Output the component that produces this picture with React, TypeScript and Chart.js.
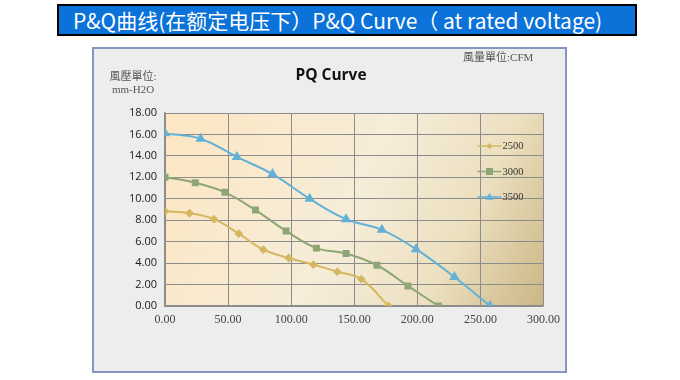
import React, { useEffect, useRef } from "react";
import { Chart, registerables } from "chart.js";

Chart.register(...registerables);

const seriesNames = ["2500", "3000", "3500"];
const flow2500 = [0, 19.5, 38.8, 58.5, 78, 98, 117.6, 136.6, 155.6, 177.2];
const pres2500 = [8.83, 8.65, 8.1, 6.75, 5.25, 4.48, 3.86, 3.2, 2.5, 0];
const flow3000 = [0, 24, 47.5, 71.7, 96, 120, 143.5, 168, 192.5, 216.8];
const pres3000 = [12.0, 11.5, 10.6, 8.95, 7.0, 5.4, 4.9, 3.8, 1.87, 0];
const flow3500 = [0, 28.2, 57, 85.2, 114.7, 143.5, 171.9, 199, 229.4, 257.7];
const pres3500 = [16.1, 15.6, 13.9, 12.3, 10.0, 8.1, 7.1, 5.3, 2.7, 0];
const xTicks = [0, 50, 100, 150, 200, 250, 300];
const yTicks = [0, 2, 4, 6, 8, 10, 12, 14, 16, 18];

const colors = ["#d4b760", "#8ea676", "#62b1d8"];
const pointStyles = ["rectRot", "rect", "triangle"];
const pointRadii = [3, 3.5, 4];

function pairs(xs: number[], ys: number[]) {
  return xs.map((x, i) => ({ x, y: ys[i] }));
}

const bgPlugin = {
  id: "plotBg",
  beforeDraw(chart: any) {
    const { ctx, chartArea } = chart;
    const { left, top, right, bottom } = chartArea;
    const g = ctx.createLinearGradient(left, top, right, bottom);
    g.addColorStop(0, "#fde6c2");
    g.addColorStop(0.5, "#f6edd9");
    g.addColorStop(0.75, "#ece0c0");
    g.addColorStop(1, "#cbb684");
    ctx.save();
    ctx.fillStyle = g;
    ctx.fillRect(left, top, right - left, bottom - top);
    ctx.restore();
  },
};

const legendPlugin = {
  id: "innerLegend",
  afterDraw(chart: any) {
    const { ctx, chartArea } = chart;
    const x0 = chartArea.right - 66;
    const yStart = chartArea.top + 33;
    const step = 25.5;
    ctx.save();
    chart.data.datasets.forEach((ds: any, i: number) => {
      const y = yStart + i * step;
      ctx.strokeStyle = ds.borderColor;
      ctx.lineWidth = 1.5;
      ctx.beginPath();
      ctx.moveTo(x0, y);
      ctx.lineTo(x0 + 24, y);
      ctx.stroke();
      ctx.fillStyle = ds.pointBackgroundColor;
      const r = pointRadii[i];
      const cx = x0 + 12;
      ctx.beginPath();
      if (pointStyles[i] === "rectRot") {
        ctx.moveTo(cx, y - r);
        ctx.lineTo(cx + r, y);
        ctx.lineTo(cx, y + r);
        ctx.lineTo(cx - r, y);
      } else if (pointStyles[i] === "rect") {
        ctx.rect(cx - r, y - r, 2 * r, 2 * r);
      } else {
        ctx.moveTo(cx, y - r);
        ctx.lineTo(cx + r, y + r * 0.7);
        ctx.lineTo(cx - r, y + r * 0.7);
      }
      ctx.closePath();
      ctx.fill();
      ctx.fillStyle = "#333";
      ctx.font = "10.5px 'Liberation Serif'";
      ctx.textBaseline = "middle";
      ctx.textAlign = "left";
      ctx.fillText(ds.label, x0 + 25, y + 0.5);
    });
    ctx.restore();
  },
};

export default function App() {
  const ref = useRef<HTMLCanvasElement>(null);
  useEffect(() => {
    const series = [
      pairs(flow2500, pres2500),
      pairs(flow3000, pres3000),
      pairs(flow3500, pres3500),
    ];
    const chart = new Chart(ref.current!, {
      type: "line",
      data: {
        datasets: series.map((d, i) => ({
          label: seriesNames[i],
          data: d,
          borderColor: colors[i],
          backgroundColor: colors[i],
          pointBackgroundColor: colors[i],
          pointBorderColor: colors[i],
          pointStyle: pointStyles[i] as any,
          pointRadius: pointRadii[i],
          borderWidth: 2,
          tension: 0.4,
          fill: false,
        })),
      },
      options: {
        animation: false,
        responsive: false,
        maintainAspectRatio: false,
        layout: { padding: { top: 66, right: 23, left: 0, bottom: 0 } },
        plugins: {
          legend: { display: false },
          title: { display: false },
          tooltip: { enabled: false },
        },
        scales: {
          x: {
            type: "linear",
            min: 0,
            max: 300,
            afterBuildTicks: (s: any) => {
              s.ticks = xTicks.map((v) => ({ value: v }));
            },
            afterFit: (s: any) => {
              s.height = 67;
            },
            grid: { color: "#8c8c8c", lineWidth: 1, drawTicks: false },
            border: { color: "#8c8c8c", width: 1.5 },
            ticks: {
              padding: 7,
              color: "#444",
              font: { family: "'Liberation Serif'", size: 12 },
              callback: (v: any) => Number(v).toFixed(2),
            },
          },
          y: {
            min: 0,
            max: 18,
            afterBuildTicks: (s: any) => {
              s.ticks = yTicks.map((v) => ({ value: v }));
            },
            afterFit: (s: any) => {
              s.width = 73;
            },
            grid: { color: "#8c8c8c", lineWidth: 1, drawTicks: false },
            border: { color: "#8c8c8c", width: 1.5 },
            ticks: {
              padding: 8,
              color: "#1a1a1a",
              font: { family: "'Open Sans'", size: 11 },
              callback: (v: any) => Number(v).toFixed(2),
            },
          },
        },
      },
      plugins: [bgPlugin, legendPlugin],
    } as any);
    return () => chart.destroy();
  }, []);

  return (
    <div style={{ position: "fixed", left: 0, top: 0, width: 680, height: 380, background: "#fff", overflow: "hidden" }}>
      <div
        style={{
          position: "absolute",
          left: 57,
          top: 4,
          width: 562,
          height: 28,
          background: "#0a72d8",
          border: "2px solid #000",
          color: "#fff",
          fontFamily: "'Noto Sans CJK SC', 'Noto Sans', sans-serif",
          fontSize: 21,
          lineHeight: "28px",
          paddingLeft: 14,
          boxSizing: "content-box",
          whiteSpace: "nowrap",
          overflow: "hidden",
        }}
      >
        P&amp;Q曲线(在额定电压下）P&amp;Q Curve（ at rated voltage)
      </div>
      <div
        style={{
          position: "absolute",
          left: 92,
          top: 47,
          width: 471,
          height: 322,
          background: "#ededed",
          border: "2px solid #8796bf",
        }}
      />
      <div style={{ position: "absolute", left: 92, top: 47, width: 475, height: 326 }}>
        <canvas ref={ref} width={475} height={326} style={{ display: "block" }} />
      </div>
      <div
        style={{
          position: "absolute",
          left: 231,
          top: 64,
          width: 200,
          textAlign: "center",
          fontFamily: "'Open Sans', sans-serif",
          fontWeight: 700,
          fontSize: 15.5,
          color: "#111",
          lineHeight: "20px",
        }}
      >
        PQ Curve
      </div>
      <div
        style={{
          position: "absolute",
          left: 463,
          top: 50,
          fontFamily: "'Liberation Serif', 'Noto Sans CJK TC', serif",
          fontSize: 11,
          color: "#555",
          lineHeight: "14px",
        }}
      >
        風量單位:CFM
      </div>
      <div
        style={{
          position: "absolute",
          left: 100,
          top: 70,
          width: 66,
          textAlign: "center",
          fontFamily: "'Liberation Serif', 'Noto Sans CJK TC', serif",
          fontSize: 11,
          color: "#555",
          lineHeight: "13px",
        }}
      >
        風壓單位:
        <br />
        mm-H2O
      </div>
    </div>
  );
}
